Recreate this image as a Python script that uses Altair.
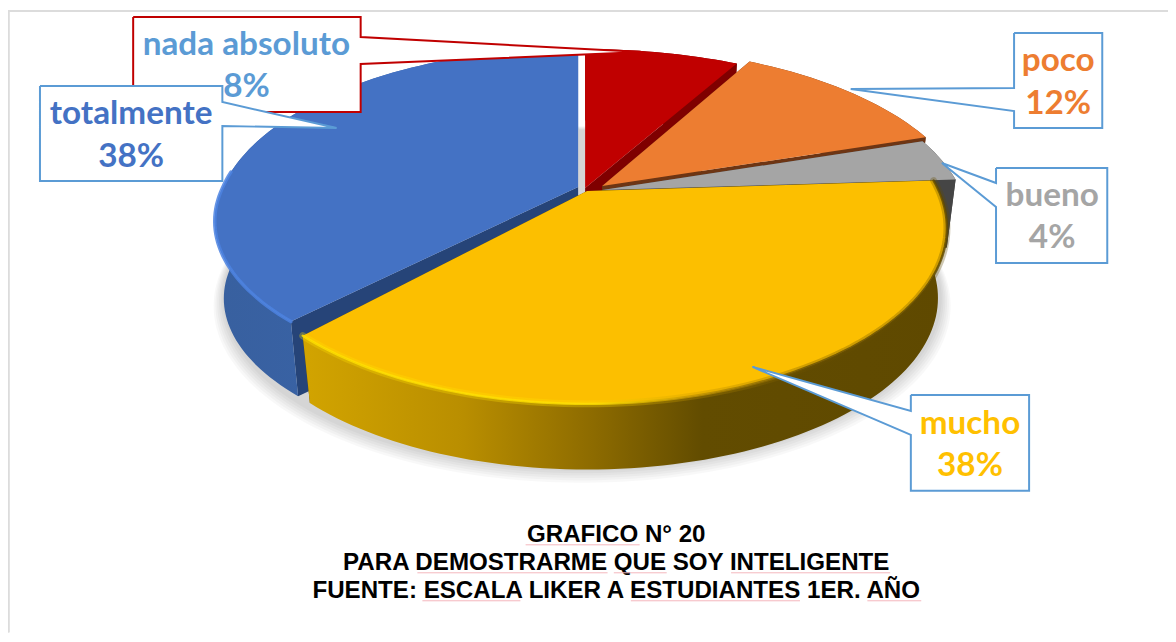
import math
import altair as alt
import pandas as pd

categories = ["nada absoluto", "poco", "bueno", "mucho", "totalmente"]
values = [8, 12, 4, 38, 38]
percent_labels = ["8%", "12%", "4%", "38%", "38%"]
title_lines = ["GRAFICO N° 20", "PARA DEMOSTRARME QUE SOY INTELIGENTE",
               "FUENTE: ESCALA LIKER A ESTUDIANTES 1ER. AÑO"]

W, H = 1168, 626
X0, X1, Y0, Y1 = 9.1, 1166.6, 10.05, 632.1
X = alt.X("x:Q", scale=alt.Scale(domain=[X0, X1], range=[0, W]), axis=None)
Y = alt.Y("y:Q", scale=alt.Scale(domain=[Y0, Y1], range=[0, H]), axis=None)

CX, CY, R, RY, P = 582, 188, 351, 168.2, 0.2103
SHRINK = 0.975


def rim(theta, off, s=1.0, front=1.0):
    u, v = math.sin(theta), math.cos(theta)
    k = 1 / (1 + P * v)
    fy = front if v < 0 else 1.0
    return (CX + s * R * u * k + off[0], CY - fy * RY * v * k + off[1])


def lower(p, off, depth=68):
    ox, oy = CX + off[0], CY + off[1]
    return (ox + SHRINK * (p[0] - ox), oy + SHRINK * (p[1] - oy) + depth)


def arc(a, b, off, s=1.0, front=1.0):
    n = max(8, int(abs(b - a) * 40))
    return [rim(a + (b - a) * i / n, off, s, front) for i in range(n + 1)]


layers = []


def frame(pts):
    return pd.DataFrame({"x": [p[0] for p in pts], "y": [p[1] for p in pts], "i": range(len(pts))})


def poly(pts, fill, stroke=None, sw=0, opacity=1.0):
    kw = dict(fill=fill, strokeWidth=sw, opacity=opacity)
    kw["stroke"] = stroke if stroke else "transparent"
    closed = list(pts) + [pts[0]] if stroke else list(pts)
    layers.append(alt.Chart(frame(closed)).mark_line(**kw).encode(x=X, y=Y, order="i:Q"))


def stroke_line(pts, stroke, sw, opacity=1.0):
    layers.append(alt.Chart(frame(pts)).mark_line(stroke=stroke, strokeWidth=sw, opacity=opacity,
                                                  strokeCap="round").encode(x=X, y=Y, order="i:Q"))


def grad(stops):
    return alt.LinearGradient(gradient="linear", x1=0, x2=1, y1=0, y2=0,
                              stops=[alt.GradientStop(color=c, offset=o) for o, c in stops])


# frame of the sheet: left and top edges only
stroke_line([(X0 + 0.8, Y1), (X0 + 0.8, Y0 + 0.8), (X1, Y0 + 0.8)], "#dcdcdc", 2)

# soft shadow under the pie
full = arc(0, 2 * math.pi, (0, 0), 1.02)
for s, dy in [(1.03, 11), (1.025, 10), (1.02, 9), (1.015, 8), (1.01, 7), (1.005, 6)]:
    ring = [lower(p, (0, 0)) for p in full]
    poly([(CX + s * (p[0] - CX), CY + s * (p[1] - CY) + dy) for p in ring], "#000000", opacity=0.028)

# slices, back to front
offsets = {"nada absoluto": (3, 0), "poco": (20, -2), "bueno": (20, 2), "mucho": (5, 3), "totalmente": (-4, -1)}
spread = {"nada absoluto": 1.06, "poco": 1.03, "bueno": 1.02, "mucho": 1.0, "totalmente": 1.01}
fronts = {"nada absoluto": 1.0, "poco": 1.0, "bueno": 1.0, "mucho": 1.0, "totalmente": 0.93}
depths = {"nada absoluto": 68, "poco": 68, "bueno": 68, "mucho": 71, "totalmente": 78}
tops = {"nada absoluto": "#c00000", "poco": "#ed7d31", "bueno": "#a5a5a5", "mucho": "#fcbf00", "totalmente": "#4472c4"}
radial = {"nada absoluto": "#7f0000", "poco": "#6d3514", "bueno": "#454545", "mucho": "#6a5000", "totalmente": "#264478"}
walls = {"nada absoluto": "#7f0000", "poco": "#6d3514", "bueno": "#454545",
         "mucho": grad([(0, "#d2a400"), (0.25, "#b98e00"), (0.45, "#8d6b00"), (0.62, "#624c00"), (1, "#5f4900")]),
         "totalmente": grad([(0, "#38609f"), (1, "#3b67b2")])}

angles, acc = {}, 0
for c, v in zip(categories, values):
    angles[c] = (acc / 100 * 2 * math.pi, (acc + v) / 100 * 2 * math.pi)
    acc += v

for c in ["nada absoluto", "poco", "bueno", "totalmente", "mucho"]:
    a, b = angles[c]
    off = offsets[c]
    d = depths[c]
    edge = arc(a, b, off, spread[c], fronts[c])
    apex = (CX + off[0], CY + off[1])
    for p in (edge[0], edge[-1]):
        poly([apex, p, lower(p, off, d), lower(apex, off, d)], radial[c])
    poly(edge + [lower(p, off, d) for p in reversed(edge)], walls[c])
    poly([apex] + edge, tops[c])

# lit rims
a, b = angles["mucho"]
ymid = arc(a, b, offsets["mucho"])
rev = grad([(0, "#ffe000"), (0.45, "#ffe000"), (0.6, "#c89800"), (0.78, "#6a5000"), (1, "#5f4900")])
stroke_line(ymid, rev, 7, 0.3)
stroke_line(ymid, rev, 2.5, 0.8)
a, b = angles["totalmente"]
stroke_line(arc(a, a + (b - a) * 0.38, offsets["totalmente"], spread["totalmente"], fronts["totalmente"]),
            "#4c82e0", 3.5, 0.85)

# callouts
BLUE = "#5b9bd5"
callouts = [
    ([(134, 17), (361, 17), (361, 37), (642, 52), (361, 64), (361, 112), (134, 112)], "#c00000"),
    ([(41, 86), (223, 86), (223, 102), (337, 128), (223, 126), (223, 181), (41, 181)], BLUE),
    ([(1013, 33), (1101, 33), (1101, 128), (1013, 128), (1013, 111), (850, 89), (1013, 88)], BLUE),
    ([(995, 168), (1106, 168), (1106, 263), (995, 263), (995, 207), (941, 163), (995, 183)], BLUE),
    ([(910, 395), (1028, 395), (1028, 491), (910, 491), (910, 435), (752, 367), (910, 411)], BLUE),
]
for pts, col in callouts:
    poly(pts, "#ffffff", col, 2)

label_pos = {"nada absoluto": (247, 45, 87, "#5b9bd5"), "totalmente": (132, 114, 157, "#4472c4"),
             "poco": (1057, 61, 104, "#ed7d31"), "bueno": (1051, 196, 238, "#a5a5a5"),
             "mucho": (969, 424, 466, "#ffc000")}
for c, pct in zip(categories, percent_labels):
    x, y1, y2, col = label_pos[c]
    layers.append(alt.Chart(pd.DataFrame({"x": [x, x], "y": [y1, y2], "t": [c, pct]})).mark_text(
        font="Lato", fontWeight="bold", fontSize=33.5, color=col, align="center", baseline="middle"
    ).encode(x=X, y=Y, text="t:N"))

# caption
layers.append(alt.Chart(pd.DataFrame({"x": [616, 616, 616], "y": [535, 563, 591], "t": title_lines})).mark_text(
    font="Liberation Sans", fontWeight="bold", fontSize=24.3, color="#000000", align="center", baseline="middle"
).encode(x=X, y=Y, text="t:N"))

# proofing underlines under the caption words
for x1, x2, y in [(526, 639, 545), (418, 607, 573), (614, 666, 573), (731, 889, 573),
                  (423, 520, 601), (631, 799, 601), (867, 920, 601)]:
    stroke_line([(x1, y), (x2, y)], "#f4b6bc", 1)

chart = alt.layer(*layers).properties(
    width=W, height=H, padding=0, background="#ffffff", autosize=alt.AutoSizeParams(type="none")
).configure_view(stroke="transparent")

chart.save("out.html", embed_options={"renderer": "svg", "actions": False})
